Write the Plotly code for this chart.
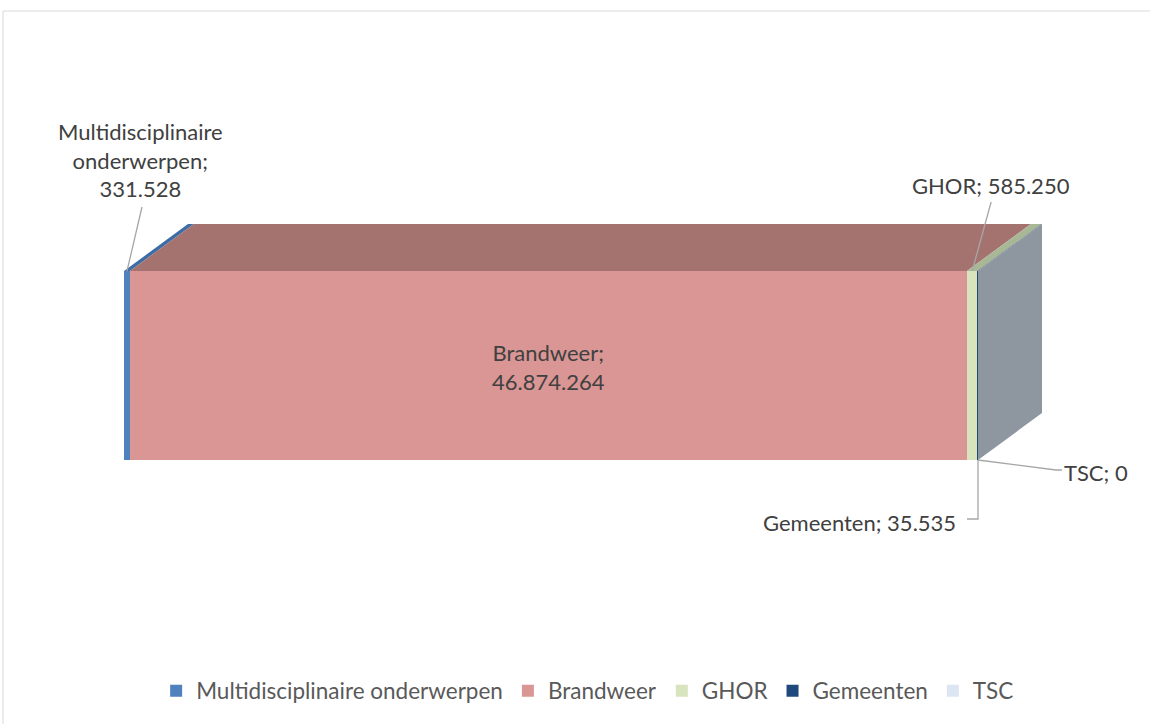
import plotly.graph_objects as go

# ---- data ----
categories = ["Multidisciplinaire onderwerpen", "Brandweer", "GHOR", "Gemeenten", "TSC"]
values = [331528, 46874264, 585250, 35535, 0]
value_labels = ["331.528", "46.874.264", "585.250", "35.535", "0"]
front_colors = ["#4F81BD", "#D99694", "#D7E4BD", "#1F497D", "#DCE6F2"]
top_colors = ["#3E6DA6", "#A5736F", "#A8B796", "#1A3E6B", "#BAC3CE"]
side_color = "#8E969F"

total = sum(values)
FONT = "Lato"
TXT = "#404040"

# pixel geometry helpers (layout only)
W, H = 1150, 724
x0_px, x1_px = 124, 978           # front face left/right in pixels
k = total / (x1_px - x0_px)       # data units per pixel (x)
yc_px, yh_px = 365.5, 189         # bar centre and height in pixels
ky = 1.0 / yh_px                  # data units per pixel (y)
dxp, dyp = 64, 47                 # depth of the 3D box in pixels
DX, DY = dxp * k, dyp * ky

fig = go.Figure()

# front faces (stacked bars)
for name, v, c in zip(categories, values, front_colors):
    fig.add_trace(go.Bar(
        y=[0], x=[v], orientation="h", name=name, width=1,
        marker=dict(color=c, line=dict(width=0)),
        hoverinfo="skip",
    ))

# top faces
starts = []
s = 0
for v in values:
    starts.append(s)
    s += v
for st, v, c in zip(starts, values, top_colors):
    if v <= 0:
        continue
    e = st + v
    fig.add_trace(go.Scatter(
        x=[st, e, e + DX, st + DX, st], y=[0.5, 0.5, 0.5 + DY, 0.5 + DY, 0.5],
        fill="toself", fillcolor=c, mode="lines", line=dict(width=0),
        showlegend=False, hoverinfo="skip",
    ))

# side (end cap) face
fig.add_trace(go.Scatter(
    x=[total, total, total + DX, total + DX, total],
    y=[-0.5, 0.5, 0.5 + DY, -0.5 + DY, -0.5],
    fill="toself", fillcolor=side_color, mode="lines", line=dict(width=0),
    showlegend=False, hoverinfo="skip",
))

LINE = dict(color="#A6A6A6", width=1.3)

def leader(ax, ay, pts):
    xs = [ax] + [ax + px * k for px, py in pts]
    ys = [ay] + [ay + py * ky for px, py in pts]
    fig.add_trace(go.Scatter(x=xs, y=ys, mode="lines", line=LINE,
                             showlegend=False, hoverinfo="skip"))

annos = []
# Multidisciplinaire
a_x, a_y = starts[0] + 3 * k, 0.5
leader(a_x, a_y, [(15, 64)])
annos.append(dict(x=a_x, y=a_y, xref="x", yref="y", xshift=13, yshift=111,
                  text=f"{categories[0].replace(' ', '<br>')};<br>{value_labels[0]}",
                  showarrow=False, xanchor="center", yanchor="middle"))
# Brandweer (inside)
annos.append(dict(x=starts[1] + values[1] / 2, y=0, xref="x", yref="y", yshift=-1,
                  text=f"{categories[1]};<br>{value_labels[1]}",
                  showarrow=False, xanchor="center", yanchor="middle"))
# GHOR
g_x, g_y = starts[2] + values[2] / 2, 0.5
leader(g_x, g_y, [(19, 69)])
annos.append(dict(x=g_x, y=g_y, xref="x", yref="y", xshift=19, yshift=86,
                  text=f"{categories[2]}; {value_labels[2]}",
                  showarrow=False, xanchor="center", yanchor="middle"))
# TSC
t_x, t_y = starts[4], -0.5
leader(t_x, t_y, [(78, -10), (84, -10)])
annos.append(dict(x=t_x, y=t_y, xref="x", yref="y", xshift=84, yshift=-12,
                  text=f"{categories[4]}; {value_labels[4]}",
                  showarrow=False, xanchor="left", yanchor="middle"))
# Gemeenten
m_x, m_y = starts[3] + values[3], -0.5
leader(m_x, m_y, [(0, -59), (-11, -59)])
annos.append(dict(x=m_x, y=m_y, xref="x", yref="y", xshift=-20, yshift=-62,
                  text=f"{categories[3]}; {value_labels[3]}",
                  showarrow=False, xanchor="right", yanchor="middle"))

for a in annos:
    a["font"] = dict(family=FONT, size=22, color=TXT)

fig.update_layout(
    width=W, height=H,
    margin=dict(l=0, r=0, t=0, b=0),
    paper_bgcolor="white", plot_bgcolor="white",
    barmode="stack",
    xaxis=dict(range=[-x0_px * k, (W - x0_px) * k], visible=False, fixedrange=True),
    yaxis=dict(range=[(yc_px - H) * ky, yc_px * ky], visible=False, fixedrange=True),
    showlegend=True,
    legend=dict(orientation="h", x=0.511, xanchor="center", y=1 - 691 / H, yanchor="middle",
                traceorder="normal", font=dict(family=FONT, size=22.5, color="#595959"),
                itemclick=False, itemdoubleclick=False),
    annotations=annos,
    shapes=[dict(type="rect", xref="paper", yref="paper",
                 x0=3 / W, x1=1.02, y0=-0.02, y1=1 - 11 / H,
                 line=dict(color="#D9D9D9", width=1), fillcolor="rgba(0,0,0,0)", layer="below")],
)

fig.write_html("out.html")
